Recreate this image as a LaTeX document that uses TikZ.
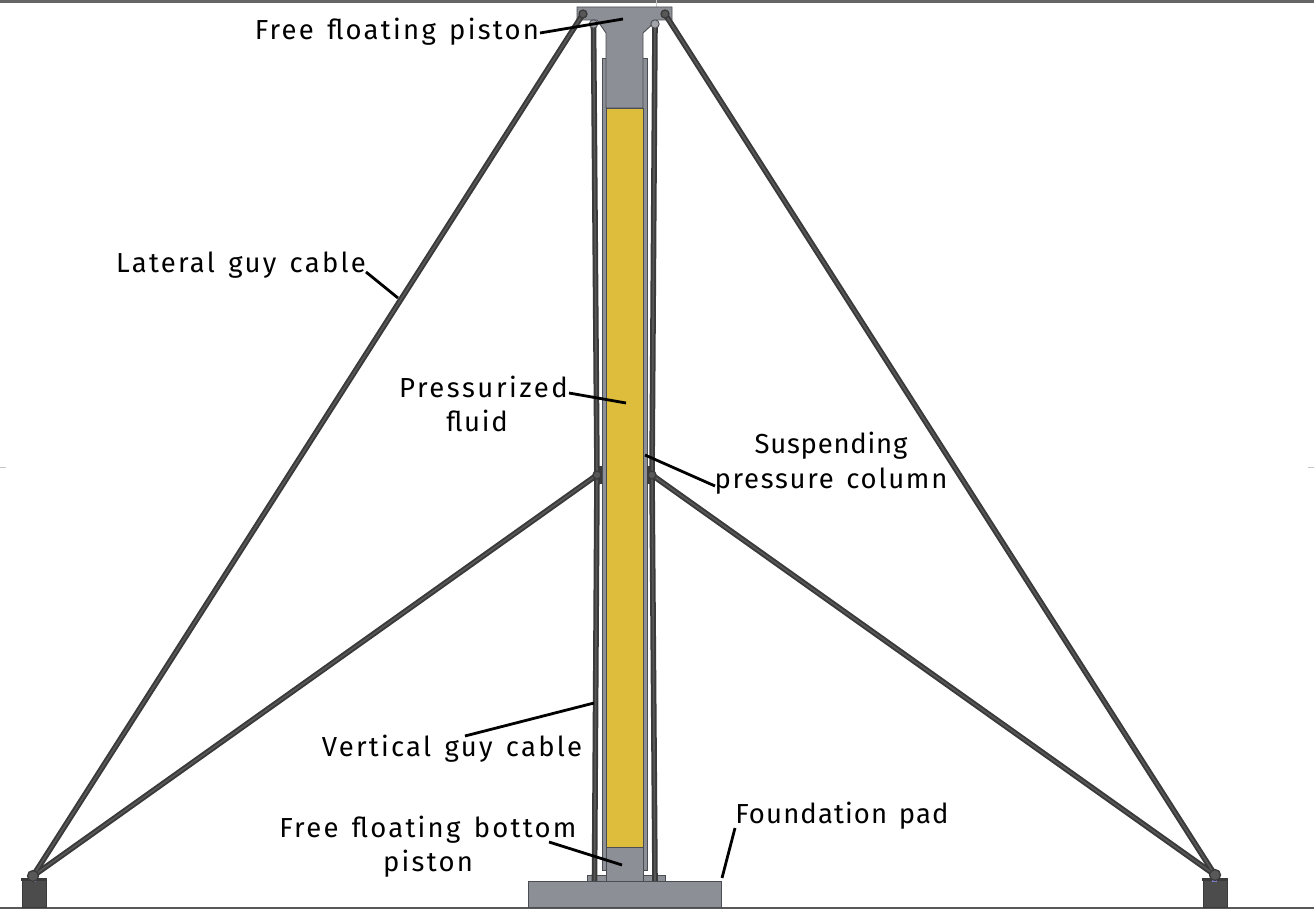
\documentclass[tikz,border=0pt]{standalone}
\usepackage{fontspec}
\setmainfont[LetterSpace=8.2,WordSpace=1.4]{Fira Sans}
\definecolor{steel}{HTML}{8C8F96}
\definecolor{fluid}{HTML}{DFBD3C}
\definecolor{edgeg}{HTML}{4A4D52}
\definecolor{cabled}{HTML}{3A3A3A}
\definecolor{cablel}{HTML}{585858}
\definecolor{blockg}{HTML}{4C4C4C}
\tikzset{
  part/.style={fill=steel,draw=edgeg,line width=0.9pt},
  liquid/.style={fill=fluid,draw=edgeg,line width=0.6pt},
  cablea/.style={draw=cabled,line width=5.6pt},
  cableb/.style={draw=cablel,line width=1.6pt},
  pin/.style={fill=cablel,draw=cabled,line width=1.3pt},
  pinl/.style={fill=steel!80!white,draw=edgeg,line width=0.9pt},
  leader/.style={draw=black,line width=2.8pt},
  lab/.style={font=\fontsize{27.5}{34}\selectfont,text=black,inner sep=0pt,align=center,anchor=center},
  block/.style={fill=blockg,draw=cabled,line width=0.8pt},
}
\begin{document}
\begin{tikzpicture}[x=1pt,y=-1pt]
\useasboundingbox (0,0) rectangle (1314,909);
\fill[white] (0,0) rectangle (1314,909);
% frame
\fill[gray!80!black] (0,0) rectangle (1314,3);
\fill[cablel] (0,907) rectangle (1314,909);
\draw[gray!45,line width=0.6pt] (0,467) -- (6,467) (1308,467) -- (1314,467) (656,0) -- (656,8);
% tube
\path[part] (602,58) rectangle (647,870);
% top piston
\path[part] (577,7) -- (672,7) -- (672,20) -- (657,20) -- (643,33) -- (643,108) -- (606,108) -- (606,33) -- (597,20) -- (577,20) -- cycle;
% fluid
\path[liquid] (606,108) rectangle (643,847);
% bottom piston and flanges
\path[part] (587,875) rectangle (665,881);
\path[part] (606,847) rectangle (643,881);
% pad
\path[part] (528,881) rectangle (721,907);
% anchor blocks
\path[block] (22,880) rectangle (46,907);
\path[block] (1203,880) rectangle (1227,907);
\fill[cabled] (21,878) rectangle (47,881);
\fill[cabled] (1202,878) rectangle (1228,881);
\fill[blue!45!gray!70!white] (31,879) rectangle (36,881.5);
\fill[blue!45!gray!70!white] (1212,879) rectangle (1217,881.5);
% brackets
\fill[cabled] (597,466) rectangle (602,484);
\fill[cabled] (647,466) rectangle (652,484);
% named points of cables
\coordinate (tl) at (583,14);
\coordinate (tr) at (665,14);
\coordinate (vl) at (593.5,24);
\coordinate (vr) at (655,24);
\coordinate (ml) at (597,475);
\coordinate (mr) at (652,475);
\coordinate (al) at (33,876);
\coordinate (ar) at (1215,875);
\coordinate (bl) at (594.5,881);
\coordinate (br) at (655,881);
% cables
\foreach \k in {cablea,cableb}{
  \draw[\k] (tl) -- (al);
  \draw[\k] (tr) -- (ar);
  \draw[\k] (ml) -- (al);
  \draw[\k] (mr) -- (ar);
  \draw[\k] (vl) -- (ml) -- (bl);
  \draw[\k] (vr) -- (mr) -- (br);
}
% pins
\path[pin] (tl) circle (4);
\path[pin] (tr) circle (4);
\path[pinl] (vl) circle (4.2);
\path[pinl] (vr) circle (4.2);
\path[pin] (ml) circle (4);
\path[pin] (mr) circle (4);
\path[pin] (al) circle (5.5);
\path[pin] (ar) circle (5.5);
% labels
\node[lab] (n1) at (397,32) {Free floating piston};
\node[lab] (n2) at (241,265) {Lateral guy cable};
\node[lab] (n3) at (483.5,387) {\addfontfeature{LetterSpace=9.3}Pressurized};
\node[lab] (n3b) at (477,421) {\addfontfeature{LetterSpace=6}fluid};
\node[lab] (n4) at (831,446) {\addfontfeature{LetterSpace=2.8}Suspending};
\node[lab] (n4b) at (831,481) {\addfontfeature{LetterSpace=6.2}pressure column};
\node[lab] (n5) at (452,749) {Vertical guy cable};
\node[lab] (n6) at (428,847) {Free floating bottom\\piston};
\node[lab] (n7) at (842,816) {\addfontfeature{LetterSpace=4}Foundation pad};
% leader ends
\coordinate (s1) at (540,33);\coordinate (e1) at (623,19);
\coordinate (s2) at (366,272);\coordinate (e2) at (398,298);
\coordinate (s3) at (569,393);\coordinate (e3) at (626,403);
\coordinate (s4) at (715,486);\coordinate (e4) at (645,455);
\coordinate (s5) at (465,736);\coordinate (e5) at (594,703);
\coordinate (s6) at (549,842);\coordinate (e6) at (622,865);
\coordinate (s7) at (735,828);\coordinate (e7) at (722,878);
\foreach \i in {1,...,7}{\draw[leader] (s\i) -- (e\i);}
\end{tikzpicture}
\end{document}
